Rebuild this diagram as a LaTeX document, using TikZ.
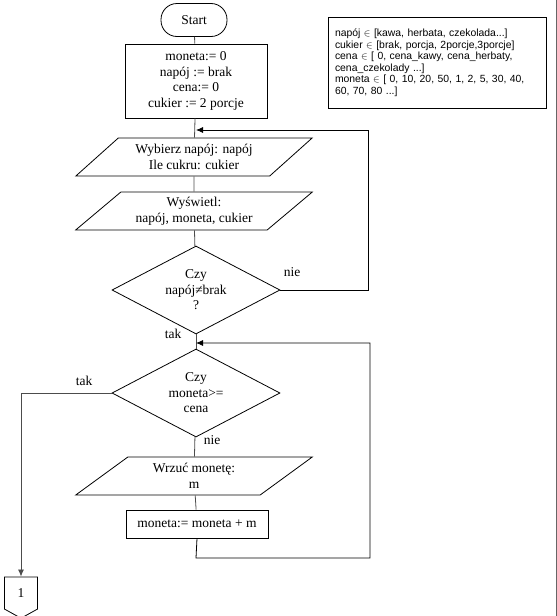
\documentclass[tikz,border=0pt]{standalone}
\usepackage{fontspec}
\setmainfont{Liberation Serif}
\newfontfamily\infofont{Liberation Sans}
\usetikzlibrary{shapes.geometric,shapes.symbols,arrows.meta}
\begin{document}
\begin{tikzpicture}[x=1pt,y=-1pt,
      line width=0.8pt,
      font=\fontsize{13.5}{15.5}\selectfont,
      flow/.style={draw=black!70},
      arr/.style={-{Latex[length=7pt,width=6pt]}},
      term/.style={draw,rounded corners=16pt,minimum width=66pt,minimum height=33pt},
      proc/.style={draw,align=center,minimum width=142pt,inner sep=2pt},
      io/.style={draw,trapezium,trapezium left angle=39,trapezium right angle=141,
        trapezium stretches=true,minimum width=237pt,minimum height=38pt,
        align=center,inner sep=1pt},
      dec/.style={draw,diamond,aspect=1.9,minimum width=168pt,minimum height=88pt,
        align=center,inner sep=0pt}]
      \useasboundingbox (0,0) rectangle (557,616);
      \draw[black!60] (556,0)--(556,616);
      % blocks
      \path (194,20) node[term] (start) {Start};
      \path (196,81) node[proc,minimum height=74pt] (init)
        {moneta:= 0\\napój := brak\\cena:= 0\\cukier := 2 porcje};
      \path (194,157) node[io] (in1) {Wybierz napój: napój\\Ile cukru: cukier};
      \path (194,211) node[io] (in2) {Wyświetl:\\napój, moneta, cukier};
      \path (196,290) node[dec] (dec1) {Czy\\napój≠brak\\?};
      \path (196,393) node[dec] (dec2) {Czy\\moneta>=\\cena};
      \path (194,476) node[io] (in3) {Wrzuć monetę:\\m};
      \path (197,524) node[proc,minimum height=28pt] (upd) {moneta:= moneta + m};
      \path (21,593) node[draw,signal,signal to=south,signal pointer angle=122,
        minimum width=33pt,minimum height=34pt,inner sep=0pt] (con) {1};
      \path (437,62.5) node[draw,font=\infofont\fontsize{10.4}{11.5}\selectfont,
        text width=204pt,align=left,inner xsep=7pt,minimum height=91pt] (info)
        {napój $\in$ [kawa, herbata, czekolada...]\\
         cukier $\in$ [brak, porcja, 2porcje,3porcje]\\
         cena $\in$ [ 0, cena\_kawy, cena\_herbaty,\\
         cena\_czekolady ...]\\
         moneta $\in$ [ 0, 10, 20, 50, 1, 2, 5, 30, 40,\\
         60, 70, 80 ...]};
      % junctions
      \coordinate (j1) at (196,130);
      \coordinate (r1) at (368,130);
      \coordinate (j2) at (196,343);
      \coordinate (r2) at (370,343);
      \coordinate (b2) at (196,558);
      % connectors
      \draw[flow] (start) -- (init);
      \draw[flow] (init) -- (in1);
      \draw[flow] (in1) -- (in2);
      \draw[flow] (in2) -- (dec1);
      \draw[flow] (dec1) -- (dec2);
      \draw[flow] (dec2) -- (in3);
      \draw[flow] (in3) -- (upd);
      \draw[arr] (dec1.east) -| (r1) -- (j1);
      \draw[arr] (upd.south) -- (b2) -| (r2) -- (j2);
      \draw[flow,arr] (dec2.west) -| (con.north);
      % labels
      \path (292,272) node {nie};
      \path (173,334) node {tak};
      \path (84,381) node {tak};
      \path (212,440) node {nie};
     \end{tikzpicture}
\end{document}
